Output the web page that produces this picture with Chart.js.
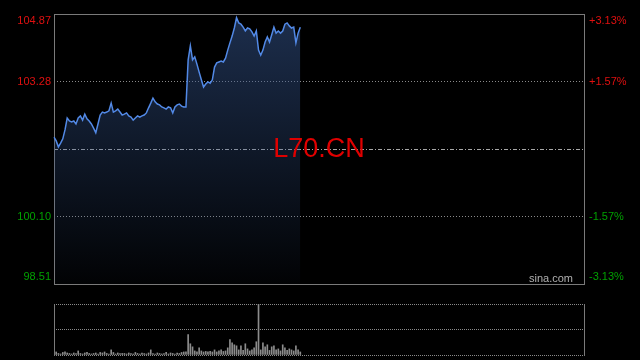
<!DOCTYPE html>
<html>
<head>
<meta charset="utf-8">
<script src="https://cdn.jsdelivr.net/npm/chart.js@4/dist/chart.umd.min.js"></script>
<style>
  html, body { margin: 0; padding: 0; background: #000; width: 640px; height: 360px; overflow: hidden; }
  #main { position: absolute; left: 0; top: 0; }
  #vol { position: absolute; left: 0; top: 295px; }
</style>
</head>
<body>
<canvas id="main" width="640" height="300"></canvas>
<canvas id="vol" width="640" height="65"></canvas>
<script>
// ---- data ----
const SLOTS = 242; // one trading day of minute slots
const priceTicks = [98.51, 100.10, 101.69, 103.28, 104.87];
const priceLabels = ['98.51', '100.10', '', '103.28', '104.87'];
const pctLabels = ['-3.13%', '-1.57%', '', '+1.57%', '+3.13%'];
const prevClose = 101.69;

const prices = [
  101.97, 101.88, 101.74, 101.83, 101.93, 102.14, 102.42, 102.35, 102.33, 102.35,
  102.28, 102.42, 102.47, 102.37, 102.51, 102.40, 102.35, 102.28, 102.18, 102.07,
  102.28, 102.49, 102.56, 102.54, 102.56, 102.59, 102.77, 102.56, 102.59, 102.63,
  102.56, 102.49, 102.51, 102.54, 102.47, 102.44, 102.37, 102.42, 102.47, 102.44,
  102.47, 102.49, 102.54, 102.66, 102.77, 102.89, 102.80, 102.75, 102.73, 102.68,
  102.66, 102.63, 102.68, 102.66, 102.54, 102.68, 102.73, 102.75, 102.70, 102.68,
  102.68, 103.79, 104.12, 103.79, 103.86, 103.69, 103.50, 103.32, 103.15, 103.22,
  103.27, 103.24, 103.32, 103.62, 103.72, 103.74, 103.76, 103.74, 103.83, 104.02,
  104.19, 104.35, 104.54, 104.78, 104.66, 104.63, 104.56, 104.47, 104.54, 104.52,
  104.45, 104.35, 104.47, 104.02, 103.90, 104.02, 104.21, 104.33, 104.21, 104.38,
  104.56, 104.42, 104.47, 104.42, 104.47, 104.63, 104.66, 104.59, 104.54, 104.56,
  104.19, 104.42, 104.56
];

const volumes = [
  4, 6, 3, 2, 5, 6, 4, 3, 2, 4,
  3, 8, 3, 2, 4, 5, 3, 2, 3, 4,
  2, 5, 4, 6, 3, 2, 10, 5, 2, 4,
  3, 3, 3, 2, 4, 3, 2, 5, 3, 2,
  4, 3, 2, 4, 10, 3, 2, 4, 3, 2,
  3, 5, 2, 4, 3, 2, 4, 3, 5, 6,
  6, 40, 22, 16, 8, 6, 14, 8, 6, 7,
  6, 7, 6, 10, 6, 8, 10, 7, 8, 14,
  30, 24, 20, 18, 10, 18, 9, 22, 12, 8,
  10, 14, 26, 100, 10, 24, 16, 20, 9, 16,
  18, 10, 12, 8, 20, 14, 9, 12, 10, 8,
  18, 10, 6
];

const labels = Array.from({ length: SLOTS }, (_, i) => i);
const priceData = labels.map(i => (i < prices.length ? prices[i] : null));
const volData = labels.map(i => (i < volumes.length ? volumes[i] : null));

const FONT = "'Liberation Sans', Arial, sans-serif";
const RED = '#e01010';
const GREEN = '#00a000';

// frame + watermark plugin for main chart
const mainDecor = {
  id: 'mainDecor',
  beforeDatasetsDraw(chart) {
    const { ctx, chartArea: a } = chart;
    ctx.save();
    ctx.strokeStyle = '#7a7a7a';
    ctx.lineWidth = 1;
    ctx.setLineDash([]);
    ctx.strokeRect(Math.round(a.left) + 0.5, Math.round(a.top) + 0.5,
      Math.round(a.right - a.left), Math.round(a.bottom - a.top));
    ctx.restore();
  },
  afterDatasetsDraw(chart) {
    const { ctx, chartArea: a } = chart;
    ctx.save();
    ctx.fillStyle = '#e00000';
    ctx.font = "27px " + FONT;
    ctx.textAlign = 'center';
    ctx.textBaseline = 'middle';
    ctx.fillText('L70.CN', (a.left + a.right) / 2, chart.scales.y.getPixelForValue(prevClose) + 1);
    ctx.fillStyle = '#b0b0b0';
    ctx.font = "11px " + FONT;
    ctx.textAlign = 'right';
    ctx.textBaseline = 'alphabetic';
    ctx.fillText('sina.com', a.right - 11, a.bottom - 2);
    ctx.restore();
  }
};

function fitY(width) {
  return (s) => {
    s.width = width;
    s.paddingTop = 0;
    s.paddingBottom = 0;
  };
}

const mainCtx = document.getElementById('main').getContext('2d');
new Chart(mainCtx, {
  type: 'line',
  data: {
    labels: labels,
    datasets: [{
      data: priceData,
      borderColor: '#5289e6',
      borderWidth: 1.5,
      pointRadius: 0,
      tension: 0,
      spanGaps: false,
      fill: 'start',
      backgroundColor: (c) => {
        const a = c.chart.chartArea;
        if (!a) return 'rgba(40,64,110,0.4)';
        const g = c.chart.ctx.createLinearGradient(0, a.top, 0, a.bottom);
        g.addColorStop(0, 'rgba(52,84,140,0.55)');
        g.addColorStop(1, 'rgba(52,84,140,0.03)');
        return g;
      }
    }]
  },
  options: {
    responsive: false,
    animation: false,
    devicePixelRatio: 1,
    layout: { padding: { top: 14, bottom: 16, left: 0, right: 0 } },
    plugins: { legend: { display: false }, tooltip: { enabled: false } },
    scales: {
      x: { display: false, offset: false },
      y: {
        position: 'left',
        min: priceTicks[0], max: priceTicks[priceTicks.length - 1],
        afterBuildTicks: (s) => { s.ticks = priceTicks.map(v => ({ value: v })); },
        afterFit: fitY(54),
        border: {
          display: false,
          dash: (c) => (c.index === 2 ? [4, 2, 1, 2] : [1, 2])
        },
        grid: {
          drawTicks: false,
          lineWidth: 1,
          color: (c) => {
            if (c.index === 0 || c.index === priceTicks.length - 1) return 'rgba(0,0,0,0)';
            return c.index === 2 ? '#a8a8a8' : '#8a8a8a';
          }
        },
        ticks: {
          padding: 3,
          font: { family: FONT, size: 11 },
          color: (c) => (c.index > 2 ? RED : GREEN),
          callback: (v, i) => {
            const t = priceLabels[i];
            if (i === 0) return [t, ''];
            if (i === priceLabels.length - 1) return ['', t];
            return t;
          }
        }
      },
      y1: {
        position: 'right',
        min: priceTicks[0], max: priceTicks[priceTicks.length - 1],
        afterBuildTicks: (s) => { s.ticks = priceTicks.map(v => ({ value: v })); },
        afterFit: fitY(56),
        border: { display: false },
        grid: { display: false, drawTicks: false },
        ticks: {
          padding: 5,
          font: { family: FONT, size: 11 },
          color: (c) => (c.index > 2 ? RED : GREEN),
          callback: (v, i) => {
            const t = pctLabels[i];
            if (i === 0) return [t, ''];
            if (i === pctLabels.length - 1) return ['', t];
            return t;
          }
        }
      }
    }
  },
  plugins: [mainDecor]
});

// volume panel
const volDecor = {
  id: 'volDecor',
  afterDraw(chart) {
    const { ctx, chartArea: a } = chart;
    ctx.save();
    ctx.strokeStyle = '#7a7a7a';
    ctx.lineWidth = 1;
    ctx.beginPath();
    const l = Math.round(a.left) + 0.5, r = Math.round(a.right) + 0.5;
    ctx.moveTo(l, Math.round(a.top)); ctx.lineTo(l, Math.round(a.bottom) + 1);
    ctx.moveTo(r, Math.round(a.top)); ctx.lineTo(r, Math.round(a.bottom) + 1);
    ctx.stroke();
    ctx.restore();
  }
};

const volCtx = document.getElementById('vol').getContext('2d');
new Chart(volCtx, {
  type: 'bar',
  data: {
    labels: labels,
    datasets: [{
      data: volData,
      backgroundColor: '#8c8c8c',
      barThickness: 1,
      borderWidth: 0
    }]
  },
  options: {
    responsive: false,
    animation: false,
    devicePixelRatio: 1,
    layout: { padding: { top: 9, bottom: 5, left: 54, right: 56 } },
    plugins: { legend: { display: false }, tooltip: { enabled: false } },
    scales: {
      x: { display: false, offset: false },
      y: {
        min: 0, max: 100,
        afterBuildTicks: (s) => { s.ticks = [0, 50, 100].map(v => ({ value: v })); },
        afterFit: (s) => { s.width = 0; s.paddingTop = 0; s.paddingBottom = 0; },
        border: { display: false, dash: [1, 1] },
        grid: { drawTicks: false, color: '#8a8a8a', lineWidth: 1 },
        ticks: { display: false }
      }
    }
  },
  plugins: [volDecor]
});
</script>
</body>
</html>
